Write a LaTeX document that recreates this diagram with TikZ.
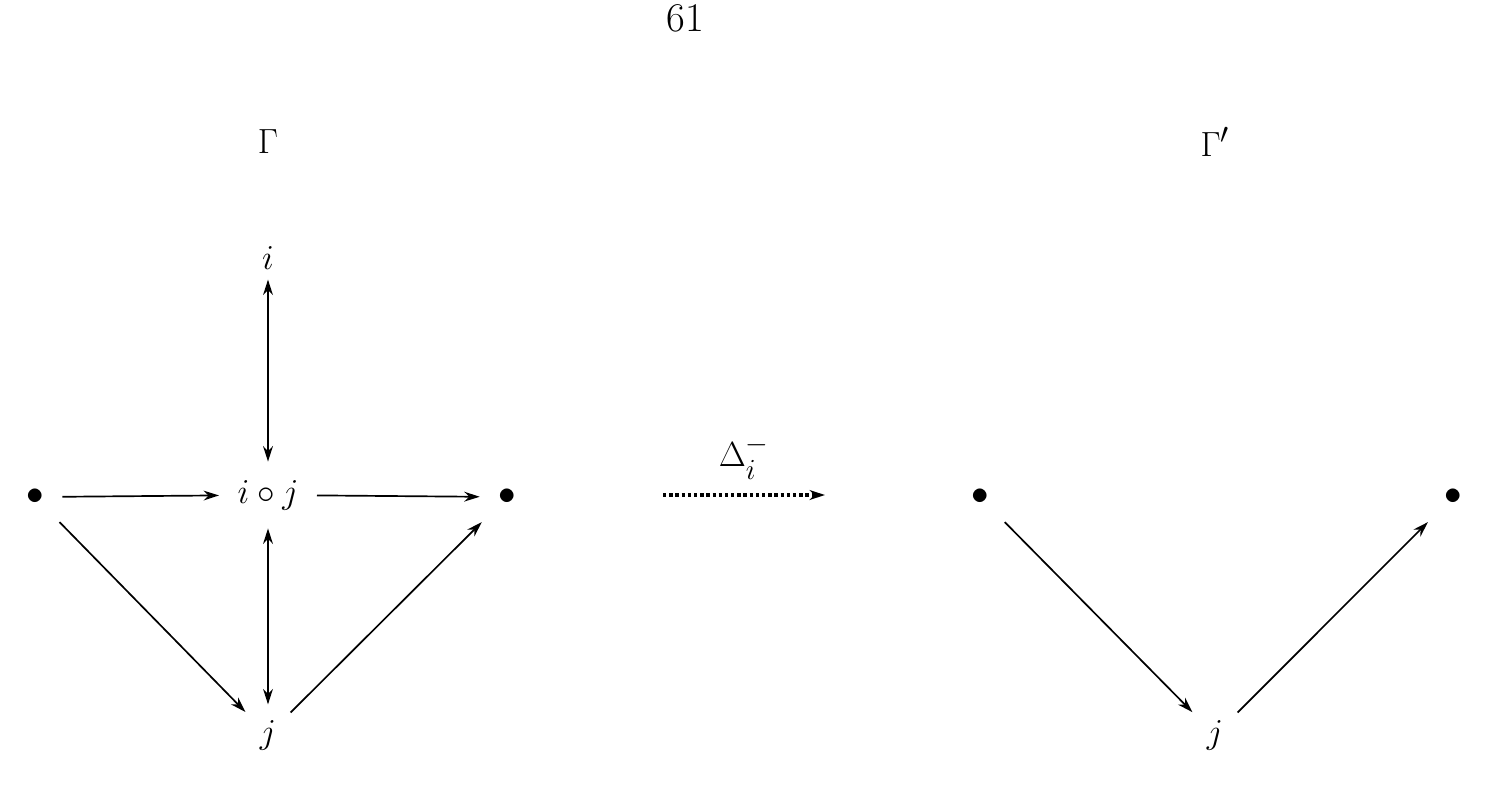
\documentclass[tikz,border=0pt]{standalone}
\usepackage{amsmath}
\usetikzlibrary{arrows.meta, positioning}
\tikzset{
  vtx/.style={inner sep=4pt, font=\fontsize{29}{34}\selectfont},
  arr/.style={-{Stealth[length=11pt,width=7pt]}, line width=1.2pt, shorten >=3pt, shorten <=3pt},
  darr/.style={arr, <->, {Stealth[length=11pt,width=7pt]}-{Stealth[length=11pt,width=7pt]}},
  map/.style={-{Stealth[length=11pt,width=7pt]}, line width=2.4pt, dotted}
}
\begin{document}
\begin{tikzpicture}[x=0.025cm, y=-0.025cm]
  \useasboundingbox (0,0) rectangle (1493,791);
  \node[vtx] (page) at (685,18) {61};
  % left graph
  \node[vtx] (G) at (268,142) {$\Gamma$};
  \node[vtx] (i) at (268,258) {$i$};
  \node[vtx, inner sep=10pt] (ij) at (268,495) {$i\circ j$};
  \node[vtx, inner sep=10pt] (a) at (35,497) {$\bullet$};
  \node[vtx, inner sep=10pt] (b) at (507,497) {$\bullet$};
  \node[vtx, inner sep=8pt] (j) at (268,735) {$j$};
  \draw[arr] (a) -- (ij);
  \draw[arr] (ij) -- (b);
  \draw[darr] (ij) -- (i);
  \draw[darr] (ij) -- (j);
  \draw[arr] (a) -- (j);
  \draw[arr] (j) -- (b);
  % map
  \coordinate (m0) at (663,495);
  \coordinate (m1) at (825,495);
  \draw[map] (m0) -- (m1) node[vtx, midway, above=6pt] {$\Delta_i^-$};
  % right graph
  \node[vtx] (G2) at (1215,142) {$\Gamma'$};
  \node[vtx, inner sep=10pt] (c) at (980,497) {$\bullet$};
  \node[vtx, inner sep=10pt] (d) at (1453,497) {$\bullet$};
  \node[vtx, inner sep=8pt] (j2) at (1215,735) {$j$};
  \draw[arr] (c) -- (j2);
  \draw[arr] (j2) -- (d);
\end{tikzpicture}
\end{document}
